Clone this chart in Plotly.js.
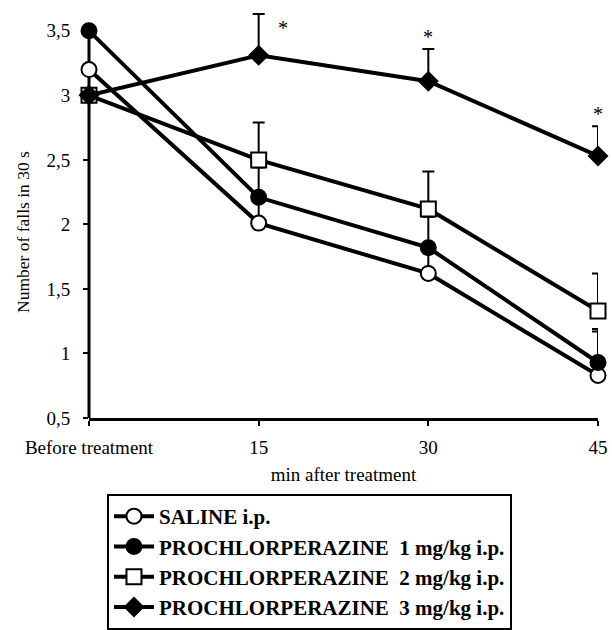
<!DOCTYPE html>
<html>
<head>
<meta charset="utf-8">
<script src="https://cdn.plot.ly/plotly-3.0.1.min.js"></script>
<style>html,body{margin:0;padding:0;background:#fff;}#chart{width:612px;height:630px;}</style>
</head>
<body>
<div id="chart"></div>
<script>
// ---- data ----
const timePoints = [0, 15, 30, 45];
const xTickText = ['Before treatment', '15', '30', '45'];
const yTickVals = [0.5, 1, 1.5, 2, 2.5, 3, 3.5];
const yTickText = ['0,5', '1', '1,5', '2', '2,5', '3', '3,5'];

const seriesNames = [
  'SALINE i.p.',
  'PROCHLORPERAZINE\u00a0\u00a01 mg/kg i.p.',
  'PROCHLORPERAZINE\u00a0\u00a02 mg/kg i.p.',
  'PROCHLORPERAZINE\u00a0\u00a03 mg/kg i.p.'
];
const saline = [3.2, 2.01, 1.62, 0.83];
const salineErr = [null, 0.2, 0.2, 0.34];
const pcp1 = [3.5, 2.21, 1.82, 0.93];
const pcp1Err = [null, 0.23, 0.24, 0.26];
const pcp2 = [3.0, 2.5, 2.12, 1.33];
const pcp2Err = [null, 0.29, 0.29, 0.29];
const pcp3 = [3.0, 3.31, 3.11, 2.53];
const pcp3Err = [null, 0.32, 0.25, 0.23];
const significant = [false, true, true, true]; // asterisks on 3 mg/kg

// ---- styles ----
const FONT = 'Liberation Serif, Times New Roman, serif';
const symbols = ['circle', 'circle', 'square', 'diamond'];
const fills = ['white', 'black', 'white', 'black'];
const sizes = [15, 15, 15, 14];
const values = [saline, pcp1, pcp2, pcp3];
const errs = [salineErr, pcp1Err, pcp2Err, pcp3Err];

const traces = values.map((v, i) => ({
  type: 'scatter',
  mode: 'lines+markers',
  x: timePoints,
  y: v,
  name: seriesNames[i],
  legendgroup: 'g' + i,
  line: {color: 'black', width: 4},
  marker: {symbol: symbols[i], size: sizes[i], color: fills[i], line: {color: 'black', width: 2}},
  error_y: {type: 'data', array: errs[i], arrayminus: errs[i].map(() => 0), symmetric: false,
            color: 'black', thickness: 2, width: 6},
  cliponaxis: false
}));

const annotations = [];
timePoints.forEach((t, i) => {
  if (significant[i]) {
    const first = i === 1;
    annotations.push({
      x: t, y: pcp3[i] + pcp3Err[i], xref: 'x', yref: 'y',
      text: '*', showarrow: false,
      xshift: first ? 24 : 0, yshift: first ? -14 : 12,
      font: {family: FONT, size: 20, color: 'black'}
    });
  }
});
annotations.push({
  xref: 'paper', yref: 'paper', x: -0.130, y: 0.45,
  xanchor: 'center', yanchor: 'middle',
  text: 'Number of falls in 30 s', textangle: -90, showarrow: false,
  font: {family: FONT, size: 17.5, color: 'black'}
});

const layout = {
  width: 612, height: 630,
  margin: {l: 89, r: 14, t: 5, b: 212, autoexpand: false},
  paper_bgcolor: 'white', plot_bgcolor: 'white',
  font: {family: FONT, size: 19, color: 'black'},
  showlegend: true,
  legend: {
    xref: 'container', yref: 'container',
    x: 0.1748, xanchor: 'left', y: 0.2159, yanchor: 'top',
    bordercolor: 'black', borderwidth: 2, bgcolor: 'white',
    font: {family: FONT, size: 21, color: 'black', weight: 'bold'},
    traceorder: 'grouped', tracegroupgap: 0, itemwidth: 40
  },
  xaxis: {
    range: [0, 45], tickvals: timePoints, ticktext: xTickText,
    showline: true, linecolor: 'black', linewidth: 3,
    ticks: 'outside', ticklen: 5, tickwidth: 2, tickcolor: 'black',
    showgrid: false, zeroline: false, ticklabelstandoff: 5,
    tickfont: {family: FONT, size: 19},
    title: {text: 'min after treatment', font: {family: FONT, size: 19}, standoff: 11}
  },
  yaxis: {
    range: [0.5, 3.7], tickvals: yTickVals, ticktext: yTickText,
    showline: false, ticks: 'outside', ticklen: 5, tickwidth: 2, tickcolor: 'black',
    showgrid: false, zeroline: false, ticklabelstandoff: 9,
    tickfont: {family: FONT, size: 19}
  },
  shapes: [{
    type: 'line', xref: 'paper', yref: 'y', x0: 0, x1: 0,
    y0: yTickVals[0], y1: yTickVals[yTickVals.length - 1],
    line: {color: 'black', width: 3}, layer: 'below'
  }],
  annotations: annotations
};

Plotly.newPlot('chart', traces, layout, {displayModeBar: false, staticPlot: true});
</script>
</body>
</html>
